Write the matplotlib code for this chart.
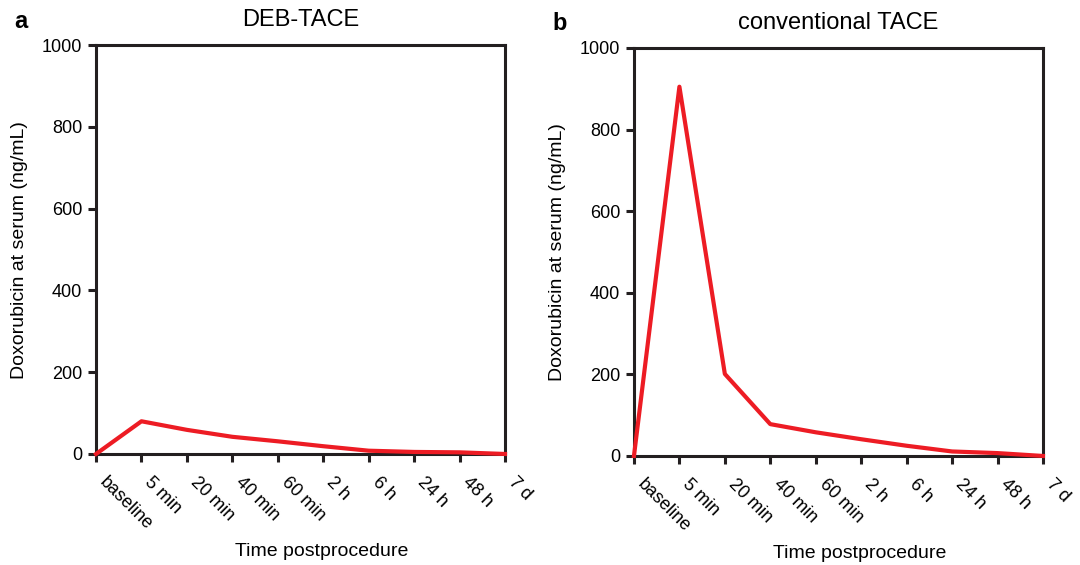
import numpy as np
import matplotlib.pyplot as plt

plt.rcParams['font.family'] = ['Liberation Sans', 'DejaVu Sans']

# time points
times = ['baseline', '5 min', '20 min', '40 min', '60 min', '2 h', '6 h', '24 h', '48 h', '7 d']

# serum doxorubicin (ng/mL)
deb_tace = [0, 80, 59, 42, 31, 19, 8, 5, 4, 0]
conv_tace = [0, 905, 201, 78, 58, 41, 25, 11, 7, 0]

panels = [('a', 'DEB-TACE', deb_tace, [0.0889, 0.1965, 0.3787, 0.7235]),
          ('b', 'conventional TACE', conv_tace, [0.587, 0.193, 0.3787, 0.7221])]

fig = plt.figure(figsize=(10.8, 5.65), dpi=100)

for letter, title, vals, rect in panels:
    ax = fig.add_axes(rect)
    x = np.arange(len(times))
    ax.plot(x, vals, color='#ED1C24', linewidth=3, clip_on=False, zorder=3)
    ax.set_xlim(0, len(times) - 1)
    ax.set_ylim(0, 1000)
    ax.set_yticks([0, 200, 400, 600, 800, 1000])
    ax.set_xticks(x)
    ax.set_xticklabels(times, rotation=-45, ha='left', va='bottom', rotation_mode='anchor')
    for s in ax.spines.values():
        s.set_linewidth(2.2)
        s.set_color('#231F20')
    ax.tick_params(direction='out', length=6, width=2.2, labelsize=13, color='#231F20', pad=4)
    ax.tick_params(axis='x', pad=17)
    ax.set_ylabel('Doxorubicin at serum (ng/mL)', fontsize=14, labelpad=10)
    ax.set_xlabel('Time postprocedure', fontsize=14)
    ax.xaxis.set_label_coords(0.553, -0.218)
    ax.set_title(title, fontsize=17, pad=14)
    ax.text(-0.2, 1.043, letter, transform=ax.transAxes, fontsize=17, fontweight='bold', va='baseline')

fig.savefig('out.png', dpi=100)
